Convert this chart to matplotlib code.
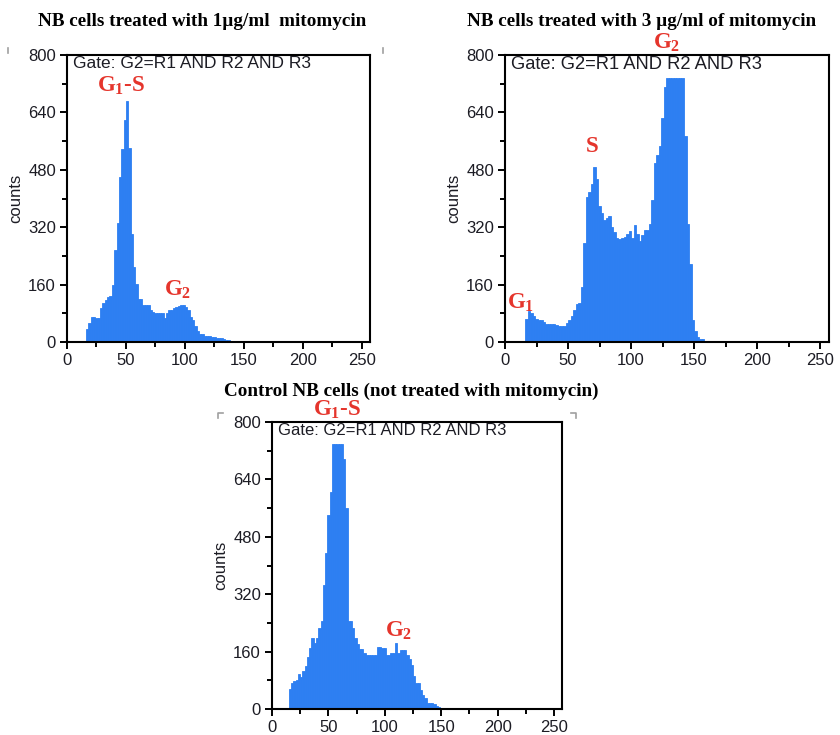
import numpy as np
import matplotlib
matplotlib.use("Agg")
import matplotlib.pyplot as plt
from matplotlib.lines import Line2D
from matplotlib.ticker import MultipleLocator

plt.rcParams['font.family'] = ['Liberation Sans', 'DejaVu Sans']
plt.rcParams['mathtext.fontset'] = 'custom'
plt.rcParams['mathtext.rm'] = 'Liberation Serif:bold'
plt.rcParams['mathtext.it'] = 'Liberation Serif:bold'
plt.rcParams['mathtext.bf'] = 'Liberation Serif:bold'

# ---------------- data (DNA content channel histograms) ----------------
bin_width = 2
start_1ug = 16
counts_1ug = [37, 54, 70, 70, 66, 66, 95, 110, 116, 126, 128, 160, 256, 332, 460, 539,
              620, 672, 540, 300, 209, 161, 121, 121, 102, 102, 102, 88, 84, 82, 82, 82,
              82, 68, 82, 88, 90, 95, 98, 100, 104, 104, 98, 88, 70, 60, 44, 30, 23, 22,
              18, 16, 16, 15, 14, 12, 12, 10, 7, 6, 6]

start_3ug = 16
counts_3ug = [65, 86, 80, 72, 65, 62, 62, 55, 50, 49, 49, 49, 48, 45, 45, 45, 52, 62, 72,
              88, 107, 110, 153, 276, 405, 419, 440, 488, 455, 380, 360, 341, 345, 352,
              321, 307, 290, 288, 290, 293, 300, 310, 290, 326, 300, 282, 298, 313, 313,
              330, 397, 499, 520, 546, 623, 711, 737, 737, 737, 737, 737, 737, 737, 574,
              330, 217, 60, 30, 15, 8, 7, 4]

start_ctrl = 15
counts_ctrl = [56, 72, 77, 80, 97, 89, 105, 120, 146, 171, 197, 185, 197, 225, 244, 346,
               434, 540, 605, 738, 738, 738, 738, 738, 698, 559, 244, 244, 225, 197, 182,
               167, 167, 156, 151, 151, 151, 151, 151, 174, 174, 170, 170, 151, 151, 156,
               156, 185, 156, 165, 165, 165, 151, 140, 123, 93, 72, 72, 54, 40, 30, 17,
               17, 17, 14, 9, 5]

titles = ["NB cells treated with 1\u00b5g/ml  mitomycin",
          "NB cells treated with 3 \u00b5g/ml of mitomycin",
          "Control NB cells (not treated with mitomycin)"]
gate_text = "Gate: G2=R1 AND R2 AND R3"
y_ticks = [0, 160, 320, 480, 640, 800]
x_ticks = [0, 50, 100, 150, 200, 250]

# ---------------- layout ----------------
W, H = 840, 735
fig = plt.figure(figsize=(W / 100, H / 100), dpi=100)
BLUE = '#2d7ff2'
RED = '#e5352c'
TXT = '#1c1c24'


def rect(l, t, r, b):
    return [l / W, 1 - b / H, (r - l) / W, (b - t) / H]


def make_panel(box, start, counts, gate_fs):
    ax = fig.add_axes(rect(*box))
    left_edges = start + bin_width * np.arange(len(counts))
    ax.bar(left_edges, counts, width=bin_width, align='edge', color=BLUE,
           edgecolor=BLUE, linewidth=0.6)
    ax.set_xlim(0, 257)
    ax.set_ylim(0, 800)
    ax.set_xticks(x_ticks)
    ax.set_yticks(y_ticks)
    ax.xaxis.set_minor_locator(MultipleLocator(25))
    ax.yaxis.set_minor_locator(MultipleLocator(80))
    ax.tick_params(which='major', direction='out', length=5, width=1.4,
                   labelsize=12, labelcolor=TXT, pad=3)
    ax.tick_params(which='minor', direction='out', length=3.5, width=1.4)
    for s in ax.spines.values():
        s.set_linewidth(1.5)
    w_px = box[2] - box[0]
    ax.set_ylabel('counts', fontsize=12, color=TXT)
    ax.yaxis.set_label_coords(-44 / w_px, 0.5)
    ax.text(0.02, 0.997, gate_text, transform=ax.transAxes, ha='left', va='top',
            fontsize=gate_fs, color=TXT)
    return ax


ax1 = make_panel((67, 55, 370, 342), start_1ug, counts_1ug, 12.5)
ax2 = make_panel((505, 55, 829, 342), start_3ug, counts_3ug, 13.2)
ax3 = make_panel((272, 422, 562, 709), start_ctrl, counts_ctrl, 12)

# titles
tkw = dict(fontsize=13.8, fontweight='bold', family='Liberation Serif',
           ha='center', va='center', color='black')
fig.text(202 / W, 1 - 22 / H, titles[0], **tkw)
fig.text(642 / W, 1 - 21 / H, titles[1], **tkw)
fig.text(411 / W, 1 - 391 / H, titles[2], **tkw)

# phase annotations
akw = dict(fontsize=16.5, fontweight='bold', family='Liberation Serif', color=RED,
           ha='center', va='center', clip_on=False)
ax1.text(46, 713, r'$\mathrm{G_1}$-S', **akw)
ax1.text(94, 145, r'$\mathrm{G_2}$', **akw)
ax2.text(69, 545, 'S', **akw)
ax2.text(128, 833, r'$\mathrm{G_2}$', **akw)
ax2.text(12, 109, r'$\mathrm{G_1}$', **akw)
ax3.text(58, 835, r'$\mathrm{G_1}$-S', **akw)
ax3.text(112, 217, r'$\mathrm{G_2}$', **akw)

# faint corner marks of the original screenshots
def pxline(xs, ys):
    fig.add_artist(Line2D([x / W for x in xs], [1 - y / H for y in ys],
                          color='#a0a0a0', linewidth=1.2))

pxline([8, 8], [48, 53])
pxline([383, 383], [48, 53])
pxline([218, 218, 223], [418, 413, 413])
pxline([571, 576, 576], [413, 413, 418])

fig.savefig('out.png', dpi=100)
